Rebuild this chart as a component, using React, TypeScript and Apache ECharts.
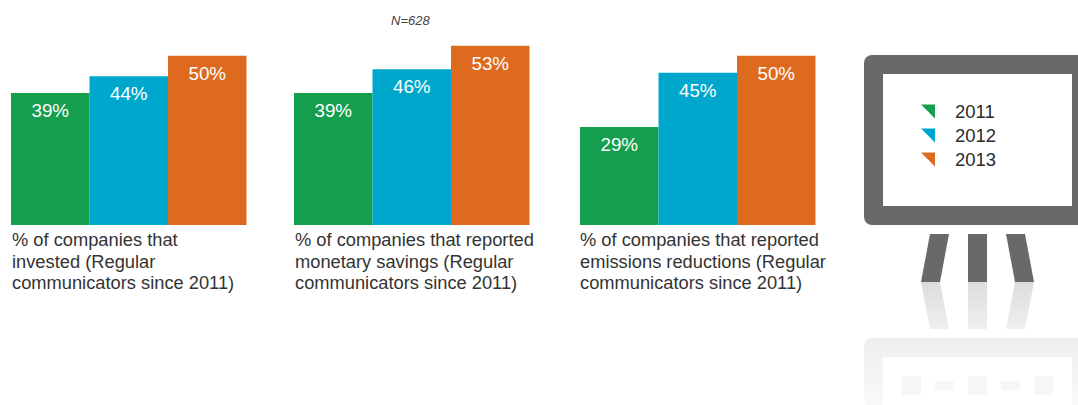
import React, { useEffect, useRef } from "react";
import * as echarts from "echarts";

const years = ["2011", "2012", "2013"];
const invested = [39, 44, 50];
const savings = [39, 46, 53];
const emissions = [29, 45, 50];
const panels = [invested, savings, emissions];
const captions = [
  "% of companies that\ninvested (Regular\ncommunicators since 2011)",
  "% of companies that reported\nmonetary savings (Regular\ncommunicators since 2011)",
  "% of companies that reported\nemissions reductions (Regular\ncommunicators since 2011)",
];
const note = "N=628";
const colors = ["#159e4d", "#00a7cc", "#dd6a1f"];
const gridLefts = [11, 294, 580];
const captionLefts = [12, 295, 580];
const FONT = "'Liberation Sans', Arial, sans-serif";
const GREY = "#696969";

const fade = (a: string, b: string) => ({
  type: "linear", x: 0, y: 0, x2: 0, y2: 1,
  colorStops: [{ offset: 0, color: a }, { offset: 1, color: b }],
});

export default function App() {
  const ref = useRef<HTMLDivElement>(null);
  useEffect(() => {
    const chart = echarts.init(ref.current!, undefined, { renderer: "svg" });
    const poly = (points: number[][], fill: any) => ({ type: "polygon", shape: { points }, style: { fill }, z: 1 });
    const rect = (x: number, y: number, width: number, height: number, fill: any, r = 0) => ({
      type: "rect", shape: { x, y, width, height, r }, style: { fill }, z: 1,
    });
    const refl = fade("#dcdcdc", "#efefef");
    chart.setOption({
      animation: false,
      backgroundColor: "#ffffff",
      textStyle: { fontFamily: FONT },
      legend: {
        data: years,
        orient: "vertical",
        left: 916,
        top: 97,
        padding: [5, 5, 5, 5],
        itemWidth: 14,
        itemHeight: 14,
        itemGap: 5,
        icon: "path://M0,0 L14,0 L14,14 Z",
        selectedMode: false,
        z: 10,
        textStyle: { fontSize: 18.5, color: "#2b2b2b", fontFamily: FONT, padding: [0, 0, 0, 15] },
      },
      grid: gridLefts.map((left) => ({ left, top: 22, width: 235.5, height: 203 })),
      xAxis: panels.map((_, i) => ({
        type: "category", gridIndex: i, data: [""], show: false,
      })),
      yAxis: panels.map((_, i) => ({
        type: "value", gridIndex: i, min: 0, max: 60, show: false,
      })),
      series: panels.flatMap((vals, i) =>
        vals.map((v, j) => ({
          type: "bar",
          name: years[j],
          xAxisIndex: i,
          yAxisIndex: i,
          data: [v],
          barWidth: 78.5,
          barGap: 0,
          itemStyle: { color: colors[j] },
          label: {
            show: true,
            position: "insideTop",
            distance: 8,
            formatter: "{c}%",
            color: "#ffffff",
            fontSize: 18.8,
            fontFamily: FONT,
          },
        }))
      ),
      graphic: [
        ...captions.map((text, i) => ({
          type: "text", x: captionLefts[i], y: 229,
          style: { text, fontSize: 18.3, lineHeight: 21.5, fill: "#333333", fontFamily: FONT },
        })),
        {
          type: "text", x: 391, y: 14,
          style: { text: note, fontSize: 13, fontStyle: "italic", fill: "#444444", fontFamily: FONT },
        },
        rect(864, 55, 230, 170, GREY, 8),
        rect(883, 74, 189, 132, "#ffffff"),
        poly([[930, 234], [949, 234], [940, 282], [921, 282]], GREY),
        rect(968, 234, 19, 48, GREY),
        poly([[1006, 234], [1025, 234], [1034, 282], [1015, 282]], GREY),
        poly([[921, 282], [940, 282], [949, 329], [930, 329]], refl),
        rect(968, 282, 19, 47, refl),
        poly([[1015, 282], [1034, 282], [1025, 329], [1006, 329]], refl),
        rect(864, 338, 230, 70, fade("#eeeeee", "#fafafa"), 8),
        rect(883, 357, 189, 50, "#ffffff"),
        rect(902, 376, 19, 19, "#f6f6f6"),
        rect(935, 381, 19, 9, "#f7f7f7"),
        rect(968, 376, 19, 19, "#f6f6f6"),
        rect(1001, 381, 19, 9, "#f7f7f7"),
        rect(1034, 376, 19, 19, "#f6f6f6"),
      ],
    });
    return () => chart.dispose();
  }, []);
  return <div ref={ref} style={{ position: "absolute", left: 0, top: 0, width: 1078, height: 405 }} />;
}
